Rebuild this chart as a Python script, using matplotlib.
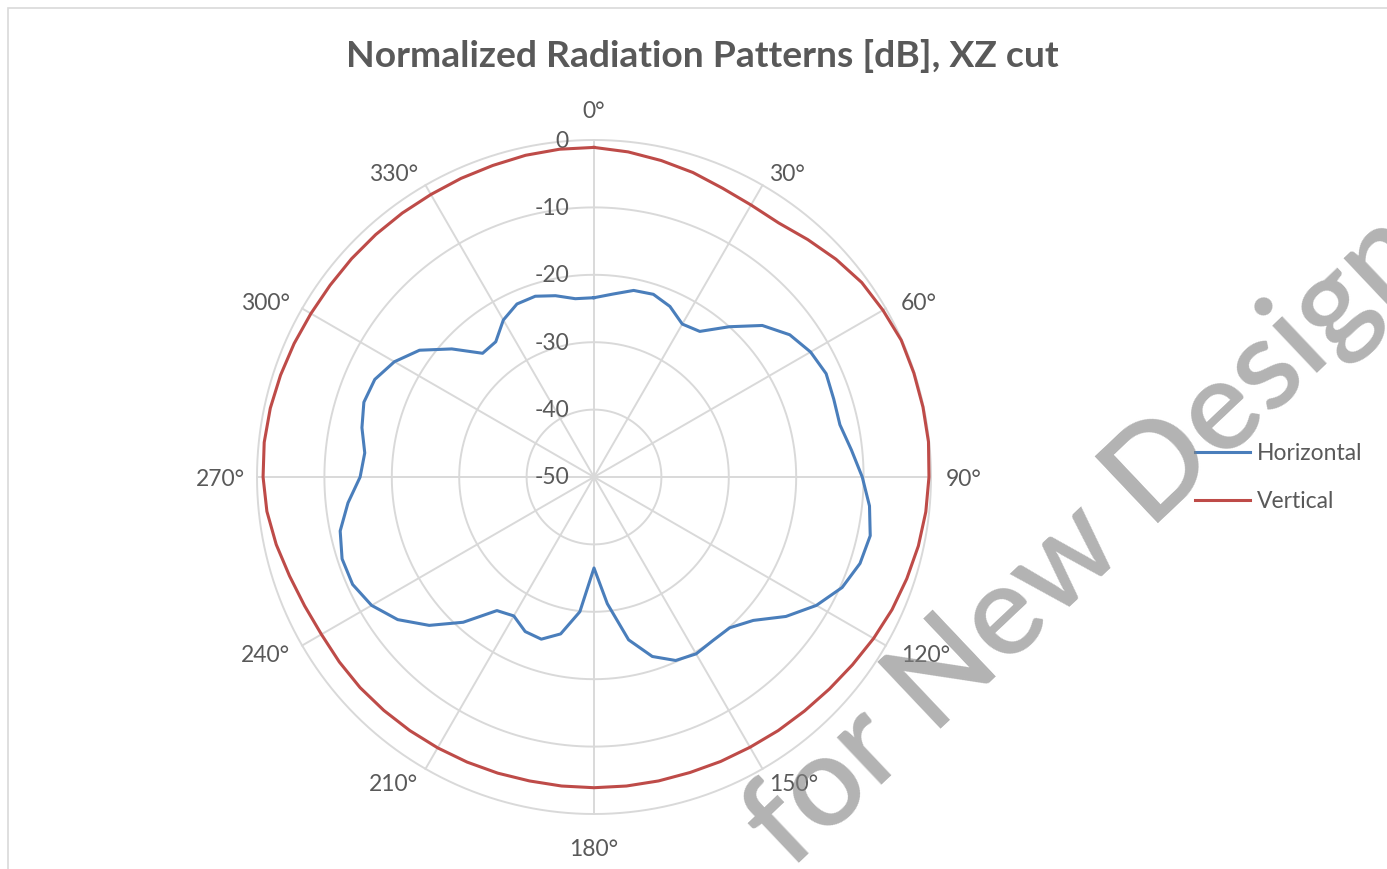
import numpy as np
import matplotlib
matplotlib.use("Agg")
import matplotlib.pyplot as plt
from matplotlib.patches import Rectangle
from matplotlib.lines import Line2D

# ---------------- data ----------------
angles_deg = list(range(0, 360, 6))

horizontal_db = [
    -23.4, -22.7, -21.7, -21.5, -22.3, -23.8, -23.3, -20.0, -16.4, -14.1,   # 0..54
    -12.9, -12.3, -12.6, -12.7, -11.6, -10.2, -8.9, -8.1, -8.5, -9.7,       # 60..114
    -11.9, -14.8, -18.2, -19.9, -20.0, -19.7, -20.2, -22.0, -25.3, -31.1,   # 120..174
    -36.5, -29.9, -26.2, -24.7, -24.9, -26.2, -25.5, -21.0, -17.1, -14.0,   # 180..234
    -11.9, -10.8, -10.7, -11.5, -13.3, -15.3, -15.8, -14.8, -14.1, -14.4,   # 240..294
    -15.8, -18.0, -21.6, -25.3, -25.2, -23.1, -21.9, -21.8, -22.5, -23.4,   # 300..354
]

vertical_db = [
    -1.1, -1.5, -2.0, -2.5, -3.1, -3.4, -3.4, -2.6, -1.7, -0.9,    # 0..54
    -0.5, -0.1, -0.1, -0.1, -0.1, -0.3, -0.5, -0.8, -1.2, -1.6,    # 60..114
    -2.1, -2.6, -3.0, -3.3, -3.5, -3.7, -3.8, -3.9, -3.9, -3.9,    # 120..174
    -3.9, -3.9, -3.9, -3.8, -3.7, -3.6, -3.5, -3.4, -3.3, -3.3,    # 180..234
    -3.3, -3.0, -2.5, -1.8, -1.2, -0.9, -0.8, -0.9, -1.1, -1.3,    # 240..294
    -1.5, -1.6, -1.6, -1.6, -1.6, -1.6, -1.5, -1.4, -1.2, -1.1,    # 300..354
]

label_angles = [0, 30, 60, 90, 120, 150, 180, 210, 240, 270, 300, 330]
angle_labels = ["0°", "30°", "60°", "90°", "120°", "150°",
                "180°", "210°", "240°", "270°", "300°", "330°"]
radial_ticks = [-50, -40, -30, -20, -10, 0]
series_names = ["Horizontal", "Vertical"]
title_text = "Normalized Radiation Patterns [dB], XZ cut"
watermark_text = "for New Design"

# ---------------- style ----------------
W, H = 1387, 869
DPI = 100
TXT = "#595959"
GRID = "#D9D9D9"
BLUE = "#4A7EBB"
RED = "#BE4B48"
FONT = "Lato"
FS = 16.5

fig = plt.figure(figsize=(W / DPI, H / DPI), dpi=DPI)
fig.patch.set_facecolor("white")

# chart-area border (partially visible at left / top)
fig.add_artist(Rectangle((8 / W, -0.2), 1.5, (H - 8) / H + 0.2,
                         transform=fig.transFigure, fill=False,
                         ec=GRID, lw=1.2, zorder=0))

cx, cy, R = 594, 477, 337
ax = fig.add_axes([(cx - R) / W, (H - cy - R) / H, 2 * R / W, 2 * R / H],
                  projection="polar")
ax.set_theta_zero_location("N")
ax.set_theta_direction(-1)
ax.set_ylim(radial_ticks[0], radial_ticks[-1])
ax.grid(False)
ax.set_xticks([])
ax.set_yticks([])
ax.spines["polar"].set_visible(False)
ax.patch.set_visible(False)

# gridlines
full = np.linspace(0, 2 * np.pi, 721)
for r in radial_ticks[1:]:
    ax.plot(full, np.full_like(full, r), color=GRID, lw=1.4, zorder=1,
            clip_on=False)
for a in label_angles:
    t = np.deg2rad(a)
    ax.plot([t, t], [radial_ticks[0], radial_ticks[-1]], color=GRID, lw=1.4,
            zorder=1, clip_on=False)

# data
th = np.deg2rad(np.array(angles_deg + [angles_deg[0]], dtype=float))
h_vals = np.array(horizontal_db + [horizontal_db[0]])
v_vals = np.array(vertical_db + [vertical_db[0]])
ax.plot(th, h_vals, color=BLUE, lw=2.2, zorder=3, clip_on=False,
        solid_joinstyle="round")
ax.plot(th, v_vals, color=RED, lw=2.2, zorder=3, clip_on=False,
        solid_joinstyle="round")

# radial tick labels
for v in radial_ticks:
    ax.annotate(str(v), xy=(0, v), xytext=(-25, -1), textcoords="offset pixels",
                ha="right", va="center", fontsize=FS, color=TXT,
                family=FONT, zorder=2, annotation_clip=False)

# angular labels
for a, lab in zip(label_angles, angle_labels):
    t = np.deg2rad(a)
    s, c = np.sin(t), np.cos(t)
    if abs(s) < 1e-6:
        off = (0, 29 if c > 0 else -35)
        ha = "center"
    else:
        dx = (15 if s > 0 else 12) if abs(s) > 0.8 else 7
        off = (dx * np.sign(s), 15.5 * c - 2.5)
        ha = "left" if s > 0 else "right"
    ax.annotate(lab, xy=(t, radial_ticks[-1]), xytext=off,
                textcoords="offset pixels", ha=ha, va="center",
                fontsize=FS, color=TXT, family=FONT, annotation_clip=False)

# title
fig.text(702 / W, 1 - 56 / H, title_text, ha="center", va="center",
         fontsize=26.8, fontweight="bold", color=TXT, family=FONT)

# legend
handles = [Line2D([], [], color=BLUE, lw=2.2),
           Line2D([], [], color=RED, lw=2.2)]
leg = fig.legend(handles, series_names, loc="upper left",
                 bbox_to_anchor=(1195 / W, 1 - 443 / H),
                 frameon=False, borderpad=0, borderaxespad=0,
                 handlelength=2.4, handletextpad=0.3, labelspacing=1.2,
                 prop={"family": FONT, "size": FS})
for t in leg.get_texts():
    t.set_color(TXT)

# watermark: start point derived from a reference "D" position at 88 pt,
# then drawn a little larger from that same start point
WM_ANGLE = 43.4
REF_KW = dict(fontsize=88, family="Lato", fontweight="semibold")
renderer = fig.canvas.get_renderer()
t1 = fig.text(0, 0, "for New D", **REF_KW)
t2 = fig.text(0, 0, "D", **REF_KW)
adv = (t1.get_window_extent(renderer).width
       - t2.get_window_extent(renderer).width)
t1.remove()
t2.remove()
d_x, d_y = 1136, H - 545          # pixel position (y up) of the D's stem foot
a = np.deg2rad(WM_ANGLE)
sx, sy = d_x - adv * np.cos(a), d_y - adv * np.sin(a)
fig.text(sx / W, sy / H, watermark_text, rotation=WM_ANGLE,
         rotation_mode="anchor", ha="left", va="baseline",
         color="#808080", alpha=0.6, zorder=10,
         fontsize=92, family="Lato", fontweight="semibold")

fig.savefig("out.png", dpi=DPI, facecolor="white")
